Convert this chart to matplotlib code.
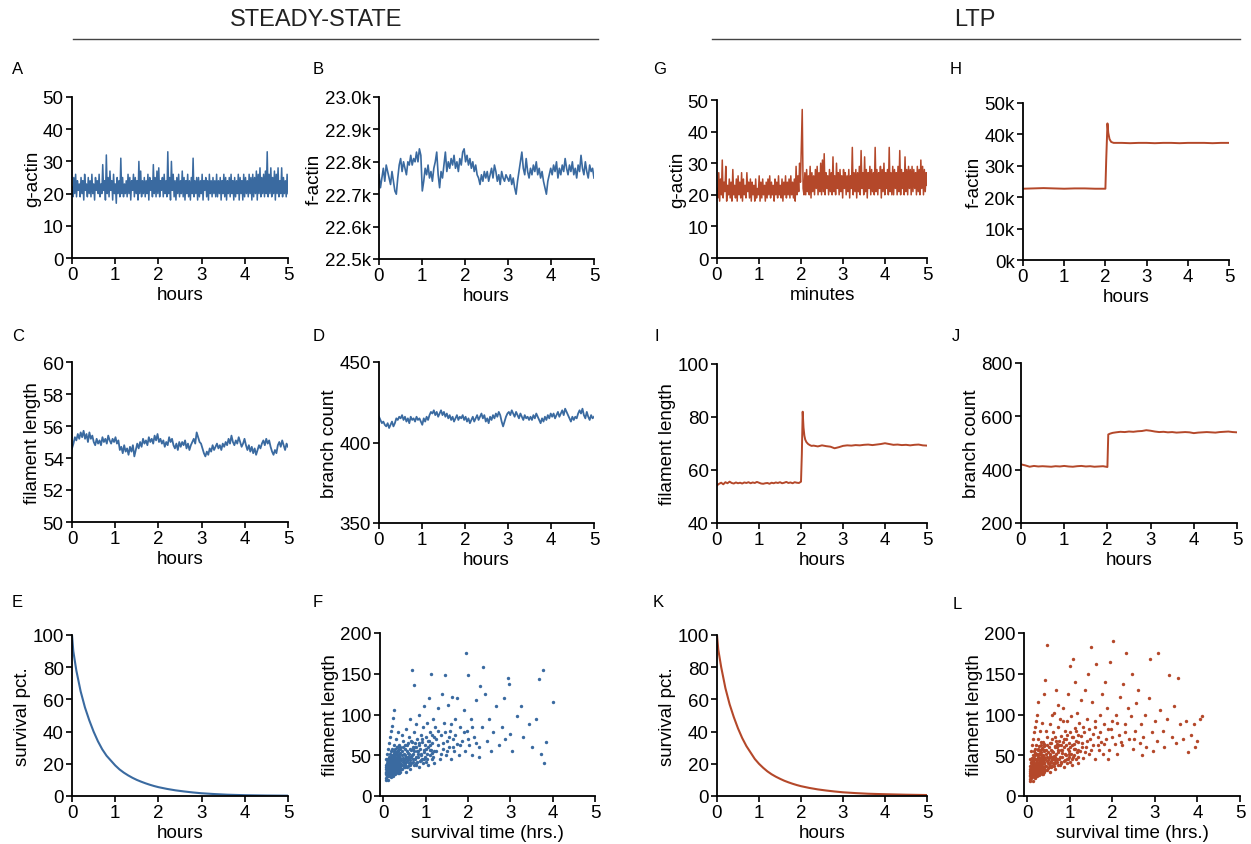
import numpy as np
import matplotlib.pyplot as plt
from matplotlib.lines import Line2D
from matplotlib.ticker import FuncFormatter

plt.rcParams['font.family'] = ['Liberation Sans', 'DejaVu Sans']

BLUE = '#3a6aa0'
RED = '#b4482a'

# ---- steady-state traces (sampled evenly over 0-5 h) ----
A_gactin = [
    22, 19, 25, 20, 26, 19, 24, 21, 23, 19, 25, 20, 24, 18, 26, 21, 23, 19, 25, 20,
    24, 19, 26, 20, 23, 18, 25, 21, 24, 20, 26, 19, 23, 20, 29, 21, 24, 18, 32, 20,
    25, 19, 27, 21, 24, 18, 26, 20, 23, 17, 25, 20, 24, 19, 31, 20, 25, 19, 23, 20,
    24, 19, 26, 20, 25, 18, 24, 21, 26, 19, 25, 20, 24, 18, 30, 20, 27, 19, 24, 20,
    25, 19, 24, 20, 26, 18, 25, 21, 24, 19, 29, 20, 25, 19, 27, 20, 28, 19, 24, 21,
    25, 19, 26, 20, 24, 19, 33, 20, 25, 18, 30, 21, 26, 19, 24, 18, 25, 20, 26, 19,
    24, 20, 27, 19, 25, 18, 24, 20, 26, 19, 24, 18, 25, 20, 31, 19, 24, 20, 25, 18,
    25, 19, 24, 20, 26, 18, 24, 21, 25, 19, 24, 18, 26, 20, 24, 19, 25, 20, 24, 19,
    26, 19, 24, 20, 25, 18, 24, 20, 26, 19, 25, 18, 24, 20, 25, 19, 26, 20, 24, 18,
    25, 19, 24, 20, 26, 18, 25, 20, 24, 18, 26, 19, 25, 20, 24, 19, 26, 20, 25, 18,
    26, 19, 25, 20, 27, 18, 26, 20, 28, 19, 25, 20, 26, 19, 27, 20, 33, 19, 26, 20,
    28, 19, 25, 20, 27, 18, 26, 20, 28, 19, 24, 20, 28, 19, 25, 20, 24, 19, 26, 20,
]

B_factin_k = [
    22.76, 22.72, 22.75, 22.78, 22.74, 22.79, 22.77, 22.75, 22.73, 22.77, 22.74, 22.71, 22.70, 22.75, 22.79,
    22.81, 22.77, 22.80, 22.78, 22.76, 22.80, 22.79, 22.82, 22.79, 22.81, 22.80, 22.83, 22.80, 22.84, 22.82,
    22.71, 22.74, 22.78, 22.76, 22.79, 22.75, 22.77, 22.74, 22.78, 22.80, 22.83, 22.76, 22.72, 22.77, 22.75,
    22.79, 22.83, 22.77, 22.80, 22.78, 22.81, 22.79, 22.82, 22.78, 22.80, 22.77, 22.81, 22.79, 22.83, 22.84,
    22.80, 22.82, 22.79, 22.81, 22.78, 22.80, 22.77, 22.79, 22.76, 22.75, 22.73, 22.76, 22.74, 22.77, 22.75,
    22.77, 22.74, 22.76, 22.78, 22.75, 22.79, 22.77, 22.74, 22.76, 22.73, 22.77, 22.75, 22.74, 22.76, 22.75,
    22.74, 22.76, 22.73, 22.75, 22.72, 22.70, 22.74, 22.77, 22.80, 22.83, 22.78, 22.76, 22.81, 22.77, 22.75,
    22.78, 22.76, 22.79, 22.77, 22.80, 22.76, 22.78, 22.75, 22.77, 22.74, 22.72, 22.70, 22.74, 22.76, 22.78,
    22.76, 22.79, 22.77, 22.80, 22.75, 22.78, 22.76, 22.79, 22.77, 22.81, 22.78, 22.76, 22.79, 22.77, 22.80,
    22.76, 22.78, 22.75, 22.79, 22.77, 22.82, 22.78, 22.76, 22.80, 22.77, 22.75, 22.79, 22.77, 22.78, 22.75,
]

C_length = [
    54.6, 54.9, 55.3, 55.1, 55.5, 55.2, 55.6, 55.3, 55.7, 55.2, 55.5, 55.0, 55.6, 55.2, 55.4,
    55.0, 54.8, 55.2, 54.9, 55.1, 54.8, 55.3, 55.0, 55.2, 54.9, 55.4, 55.1, 54.9, 55.2, 55.0,
    55.3, 54.9, 55.1, 54.5, 54.7, 54.3, 54.8, 54.4, 54.6, 54.2, 54.7, 54.4, 54.8, 54.1, 54.5,
    54.9, 54.6, 55.0, 54.7, 55.2, 54.9, 55.1, 54.8, 55.3, 55.0, 55.2, 54.9, 55.4, 55.1, 55.5,
    55.0, 55.2, 54.9, 55.1, 54.7, 55.0, 54.8, 55.3, 55.0, 55.2, 54.8, 54.6, 54.9, 54.5, 55.0,
    54.7, 55.0, 54.8, 55.1, 54.6, 54.9, 54.5, 54.8, 55.0, 55.2, 54.9, 55.6, 55.3, 55.0, 54.9,
    54.6, 54.3, 54.1, 54.4, 54.2, 54.6, 54.4, 54.8, 54.5, 54.7, 54.9, 54.6, 54.8, 54.5, 54.9,
    54.7, 55.0, 54.8, 55.2, 54.9, 55.4, 55.0, 54.8, 55.1, 54.9, 55.3, 55.0, 54.7, 54.9, 55.2,
    54.8, 54.5, 54.8, 54.4, 54.7, 54.3, 54.6, 54.2, 54.5, 54.8, 54.6, 54.9, 55.1, 54.8, 55.2,
    54.9, 55.1, 54.7, 54.4, 54.2, 54.5, 54.3, 54.8, 55.0, 54.7, 55.1, 54.8, 54.5, 54.9, 54.7,
]

D_branches = [
    416, 414, 412, 413, 411, 410, 412, 409, 411, 413, 410, 412, 415, 414, 416,
    415, 417, 414, 416, 413, 415, 412, 416, 414, 415, 413, 416, 414, 415, 413,
    411, 415, 413, 416, 414, 417, 419, 418, 420, 417, 419, 416, 418, 420, 417,
    419, 416, 418, 415, 417, 414, 416, 413, 415, 417, 414, 416, 415, 417, 414,
    416, 413, 415, 412, 414, 416, 413, 415, 417, 414, 416, 418, 415, 417, 413,
    415, 412, 416, 414, 417, 415, 418, 416, 419, 417, 413, 410, 413, 416, 418,
    419, 417, 420, 418, 416, 419, 417, 415, 418, 416, 414, 417, 415, 416, 414,
    416, 414, 417, 415, 418, 416, 414, 412, 415, 413, 416, 414, 417, 415, 418,
    416, 418, 415, 417, 419, 416, 418, 420, 417, 421, 419, 417, 415, 413, 416,
    414, 416, 415, 418, 420, 418, 421, 417, 415, 419, 416, 414, 417, 415, 416,
]

# ---- LTP traces ----
G_gactin = [
    22, 19, 27, 18, 25, 20, 31, 19, 24, 21, 29, 18, 23, 20, 25, 19, 24, 18, 28, 20,
    23, 19, 25, 18, 26, 20, 24, 19, 27, 18, 25, 20, 23, 19, 27, 21, 24, 19, 25, 18,
    24, 20, 23, 18, 25, 19, 22, 20, 26, 18, 24, 19, 25, 20, 23, 18, 24, 19, 25, 20,
    26, 19, 24, 20, 23, 18, 25, 20, 24, 19, 26, 20, 23, 19, 25, 18, 24, 20, 26, 19,
    24, 20, 25, 19, 26, 20, 24, 19, 25, 18, 29, 20, 26, 21, 30, 24, 36, 47, 22, 20,
    27, 20, 28, 21, 26, 20, 29, 19, 27, 21, 26, 20, 28, 22, 29, 20, 27, 21, 30, 20,
    31, 21, 33, 20, 27, 22, 26, 20, 28, 21, 27, 20, 32, 21, 26, 20, 30, 22, 27, 20,
    28, 21, 26, 19, 28, 22, 27, 20, 26, 21, 28, 19, 26, 22, 35, 20, 27, 21, 28, 19,
    27, 21, 29, 20, 34, 22, 27, 20, 32, 21, 28, 19, 27, 22, 29, 20, 28, 21, 27, 20,
    35, 21, 28, 20, 27, 22, 29, 19, 28, 21, 30, 20, 27, 22, 28, 20, 35, 21, 27, 20,
    29, 20, 28, 22, 27, 20, 29, 21, 34, 20, 28, 22, 27, 20, 32, 21, 28, 20, 29, 22,
    28, 20, 29, 21, 28, 22, 27, 20, 29, 21, 28, 20, 31, 22, 29, 20, 28, 21, 27, 23,
]

H_hours = [0, 0.25, 0.5, 0.75, 1.0, 1.25, 1.5, 1.75, 2.0,
           2.02, 2.05, 2.07, 2.10, 2.14, 2.2,
           2.4, 2.6, 2.8, 3.0, 3.2, 3.4, 3.6, 3.8, 4.0, 4.2, 4.4, 4.6, 4.8, 5.0]
H_factin_k = [22.7, 22.8, 22.9, 22.8, 22.7, 22.8, 22.8, 22.7, 22.7,
              32.0, 43.5, 40.5, 38.5, 37.6, 37.3,
              37.3, 37.2, 37.3, 37.3, 37.2, 37.3, 37.3, 37.2, 37.3, 37.3, 37.3, 37.2, 37.3, 37.3]

I_hours = [0.00, 0.05, 0.10, 0.15, 0.20, 0.25, 0.30, 0.35, 0.40, 0.45,
           0.50, 0.55, 0.60, 0.65, 0.70, 0.75, 0.80, 0.85, 0.90, 0.95,
           1.00, 1.05, 1.10, 1.15, 1.20, 1.25, 1.30, 1.35, 1.40, 1.45,
           1.50, 1.55, 1.60, 1.65, 1.70, 1.75, 1.80, 1.85, 1.90, 1.95, 2.00,
           2.02, 2.04, 2.06, 2.08, 2.10, 2.13, 2.17, 2.21, 2.25,
           2.3, 2.4, 2.5, 2.6, 2.7, 2.8, 2.9, 3.0, 3.1, 3.2, 3.3, 3.4, 3.5, 3.6,
           3.7, 3.8, 3.9, 4.0, 4.1, 4.2, 4.3, 4.4, 4.5, 4.6, 4.7, 4.8, 4.9, 5.0]
I_length = [54.2, 54.8, 55.2, 54.6, 55.4, 55.0, 55.6, 55.1, 54.9, 55.3,
            55.0, 55.2, 54.9, 55.3, 55.1, 55.4, 55.0, 55.3, 55.1, 55.5,
            55.2, 54.9, 54.8, 55.0, 55.1, 54.8, 55.2, 55.0, 55.3, 55.1,
            55.4, 55.0, 55.2, 55.5, 55.1, 55.3, 55.0, 55.4, 55.2, 55.1, 55.6,
            66.0, 82.0, 76.0, 73.0, 71.5, 70.5, 69.8, 69.4, 69.1,
            69.2, 68.9, 69.3, 69.0, 68.8, 68.2, 68.6, 69.1, 69.3, 69.2, 69.4, 69.3, 69.5, 69.6,
            69.4, 69.6, 69.8, 70.1, 69.8, 69.5, 69.6, 69.4, 69.5, 69.3, 69.5, 69.6, 69.3, 69.2]

J_hours = [0.0, 0.1, 0.2, 0.3, 0.4, 0.5, 0.6, 0.7, 0.8, 0.9, 1.0,
           1.1, 1.2, 1.3, 1.4, 1.5, 1.6, 1.7, 1.8, 1.9, 2.0,
           2.02, 2.06, 2.12,
           2.2, 2.3, 2.4, 2.5, 2.6, 2.7, 2.8, 2.9, 3.0, 3.1, 3.2, 3.3, 3.4, 3.5,
           3.6, 3.7, 3.8, 3.9, 4.0, 4.1, 4.2, 4.3, 4.4, 4.5, 4.6, 4.7, 4.8, 4.9, 5.0]
J_branches = [420, 416, 411, 414, 412, 413, 412, 411, 413, 412, 414,
              412, 411, 413, 414, 412, 413, 411, 412, 413, 410,
              532, 535, 538,
              540, 542, 541, 543, 542, 544, 545, 548, 546, 543, 541, 542, 540, 541,
              539, 540, 541, 540, 537, 539, 540, 541, 540, 539, 541, 542, 543, 541, 540]

# ---- survival curves ----
surv_hours = [0, 0.03, 0.1, 0.2, 0.3, 0.4, 0.5, 0.6, 0.7, 0.8, 0.9, 1.0, 1.1, 1.2, 1.3, 1.4,
              1.5, 1.6, 1.7, 1.8, 1.9, 2.0, 2.2, 2.4, 2.6, 2.8, 3.0, 3.3, 3.6, 4.0, 4.5, 5.0]
E_pct = [100, 90, 78, 65, 55, 47, 40, 34, 29, 25, 22, 19, 16.5, 14.5, 12.8, 11.3,
         10, 8.9, 7.9, 7, 6.2, 5.5, 4.4, 3.5, 2.8, 2.2, 1.7, 1.2, 0.8, 0.5, 0.3, 0.2]
K_pct = [100, 91, 80, 67, 57, 49, 42, 36, 31, 27, 23, 20, 17.5, 15.3, 13.5, 12,
         10.7, 9.5, 8.5, 7.6, 6.8, 6.1, 5, 4.1, 3.4, 2.8, 2.3, 1.8, 1.4, 1.1, 0.8, 0.6]

# ---- survival time vs filament length (hrs, length) ----
F_pairs = [
    (0.05, 28), (0.06, 35), (0.07, 22), (0.08, 30), (0.08, 41), (0.09, 25), (0.10, 33), (0.10, 46),
    (0.11, 27), (0.12, 38), (0.12, 20), (0.13, 31), (0.14, 43), (0.14, 26), (0.15, 35), (0.15, 52),
    (0.16, 29), (0.17, 39), (0.17, 23), (0.18, 33), (0.19, 45), (0.19, 28), (0.20, 37), (0.20, 58),
    (0.21, 31), (0.22, 42), (0.22, 25), (0.23, 35), (0.24, 48), (0.24, 29), (0.25, 39), (0.25, 63),
    (0.26, 33), (0.27, 44), (0.27, 27), (0.28, 37), (0.29, 51), (0.29, 31), (0.30, 41), (0.30, 70),
    (0.31, 35), (0.32, 46), (0.32, 29), (0.33, 39), (0.34, 55), (0.34, 33), (0.35, 43), (0.35, 78),
    (0.36, 37), (0.37, 49), (0.37, 31), (0.38, 41), (0.39, 60), (0.39, 35), (0.40, 45), (0.06, 45),
    (0.09, 52), (0.11, 58), (0.13, 65), (0.16, 72), (0.18, 80), (0.21, 86), (0.23, 96), (0.26, 105),
    (0.05, 20), (0.07, 38), (0.10, 24), (0.12, 44), (0.15, 30), (0.18, 48), (0.20, 28), (0.23, 40),
    (0.26, 53), (0.28, 30), (0.31, 48), (0.33, 60), (0.36, 28), (0.38, 52), (0.40, 34), (0.08, 32),
    (0.11, 36), (0.14, 38), (0.17, 34), (0.19, 40), (0.22, 36), (0.25, 34), (0.27, 41), (0.30, 36),
    (0.33, 45), (0.36, 42), (0.39, 47),
    (0.06, 30), (0.07, 27), (0.07, 33), (0.08, 24), (0.08, 37), (0.09, 29), (0.09, 44), (0.10, 27),
    (0.10, 39), (0.11, 31), (0.11, 42), (0.12, 29), (0.12, 34), (0.13, 25), (0.13, 40), (0.14, 33),
    (0.14, 48), (0.15, 27), (0.15, 41), (0.16, 35), (0.16, 45), (0.17, 30), (0.17, 50), (0.18, 27),
    (0.18, 38), (0.19, 34), (0.19, 55), (0.20, 31), (0.20, 43), (0.21, 26), (0.21, 39), (0.22, 33),
    (0.22, 50), (0.23, 29), (0.23, 45), (0.24, 37), (0.24, 55), (0.25, 28), (0.25, 44), (0.26, 38),
    (0.26, 47), (0.27, 32), (0.27, 58), (0.28, 42), (0.28, 50), (0.29, 35), (0.29, 45), (0.30, 30),
    (0.30, 54), (0.31, 39), (0.31, 60), (0.32, 33), (0.32, 52), (0.33, 43), (0.33, 35), (0.34, 48),
    (0.34, 28), (0.35, 38), (0.35, 56), (0.36, 46), (0.36, 33), (0.37, 40), (0.37, 62), (0.38, 36),
    (0.38, 47), (0.39, 30), (0.39, 53), (0.40, 40), (0.40, 58), (0.42, 44), (0.42, 33), (0.44, 50),
    (0.44, 38), (0.46, 42), (0.46, 60), (0.48, 35), (0.48, 52), (0.50, 46), (0.50, 40), (0.52, 38),
    (0.52, 62), (0.54, 48), (0.54, 42), (0.56, 55), (0.56, 36), (0.58, 45), (0.58, 65), (0.60, 40),
    (0.60, 52), (0.62, 48), (0.62, 38), (0.64, 58), (0.64, 44), (0.66, 40), (0.66, 68), (0.68, 50),
    (0.70, 45), (0.70, 60), (0.72, 38), (0.72, 55), (0.74, 65), (0.76, 48), (0.78, 60), (0.80, 42),
    (0.82, 55), (0.85, 65), (0.88, 52), (0.92, 70), (0.95, 45), (1.00, 58), (1.05, 68), (1.10, 62),
    (1.15, 75), (1.20, 55), (1.25, 70), (1.30, 80), (1.35, 52), (1.40, 65), (1.45, 78), (1.50, 55),
    (1.55, 72), (1.60, 88), (1.65, 60), (1.70, 75), (1.80, 62), (1.90, 78), (2.00, 70), (2.10, 85),
    (2.20, 65),
    (0.42, 38), (0.43, 55), (0.45, 33), (0.46, 47), (0.47, 68), (0.48, 40), (0.50, 58), (0.51, 35),
    (0.52, 50), (0.53, 82), (0.55, 43), (0.56, 62), (0.57, 37), (0.58, 53), (0.60, 72), (0.61, 45),
    (0.62, 95), (0.63, 40), (0.65, 57), (0.66, 48), (0.67, 155), (0.68, 66), (0.70, 42), (0.71, 52),
    (0.72, 78), (0.73, 136), (0.74, 46), (0.75, 60), (0.77, 88), (0.78, 40), (0.79, 55), (0.80, 70),
    (0.82, 48), (0.83, 63), (0.84, 100), (0.86, 43), (0.87, 58), (0.88, 75), (0.90, 50), (0.91, 66),
    (0.92, 45), (0.94, 85), (0.95, 56), (0.96, 110), (0.98, 48), (0.99, 62), (1.00, 73), (1.02, 52),
    (1.03, 90), (1.04, 45), (1.06, 60), (1.07, 120), (1.08, 68), (1.10, 50), (1.11, 78), (1.12, 150),
    (1.13, 56), (1.15, 65), (1.17, 95), (1.18, 48), (1.19, 72), (0.44, 75), (0.49, 44), (0.54, 30),
    (0.59, 48), (0.64, 33), (0.69, 58), (0.76, 38), (0.81, 52), (0.85, 36), (0.89, 44), (0.93, 40),
    (0.97, 54), (1.01, 42), (1.05, 38), (1.09, 57), (1.14, 45), (1.16, 53), (1.20, 40),
    (1.22, 85), (1.25, 55), (1.28, 108), (1.30, 62), (1.33, 46), (1.35, 75), (1.38, 125), (1.40, 58),
    (1.43, 90), (1.45, 148), (1.47, 50), (1.50, 68), (1.53, 112), (1.55, 60), (1.58, 80), (1.60, 45),
    (1.63, 122), (1.65, 70), (1.68, 55), (1.70, 95), (1.73, 64), (1.75, 120), (1.78, 50), (1.80, 85),
    (1.85, 68), (1.90, 105), (1.93, 55), (1.96, 175), (1.98, 80), (2.00, 148), (2.03, 62), (2.07, 95),
    (2.10, 50), (2.15, 72), (2.20, 118), (2.25, 60), (2.28, 135), (2.32, 85), (2.35, 158), (2.40, 125),
    (2.45, 68), (2.50, 95), (2.55, 55), (2.60, 78), (2.65, 110), (2.72, 62), (2.80, 85), (2.88, 70),
    (2.95, 145), (2.97, 138), (3.00, 76), (3.05, 55), (3.15, 98), (3.30, 72), (3.45, 88), (3.60, 95),
    (3.68, 143), (3.72, 52), (3.78, 155), (3.80, 40), (3.85, 66), (4.00, 115), (3.50, 60), (3.25, 110),
    (2.85, 120), (2.25, 48),
]

L_pairs = [
    (0.05, 25), (0.06, 33), (0.07, 21), (0.08, 29), (0.08, 40), (0.09, 24), (0.10, 31), (0.10, 47),
    (0.11, 26), (0.12, 36), (0.12, 19), (0.13, 30), (0.14, 44), (0.14, 25), (0.15, 34), (0.15, 55),
    (0.16, 28), (0.17, 38), (0.17, 22), (0.18, 32), (0.19, 46), (0.19, 27), (0.20, 36), (0.20, 62),
    (0.21, 30), (0.22, 42), (0.22, 24), (0.23, 34), (0.24, 50), (0.24, 28), (0.25, 38), (0.25, 70),
    (0.26, 32), (0.27, 45), (0.27, 26), (0.28, 36), (0.29, 53), (0.29, 30), (0.30, 40), (0.30, 80),
    (0.31, 34), (0.32, 47), (0.32, 28), (0.33, 38), (0.34, 58), (0.34, 32), (0.35, 42), (0.35, 90),
    (0.36, 36), (0.37, 50), (0.37, 30), (0.38, 40), (0.39, 64), (0.39, 34), (0.40, 44), (0.06, 46),
    (0.09, 55), (0.11, 62), (0.13, 70), (0.16, 78), (0.18, 85), (0.21, 92), (0.23, 100), (0.26, 115),
    (0.05, 19), (0.07, 37), (0.10, 23), (0.12, 43), (0.15, 29), (0.18, 50), (0.20, 27), (0.23, 41),
    (0.26, 56), (0.28, 29), (0.31, 50), (0.33, 66), (0.36, 27), (0.38, 55), (0.40, 33), (0.08, 31),
    (0.11, 35), (0.14, 37), (0.17, 33), (0.19, 39), (0.22, 35), (0.25, 33), (0.27, 40), (0.30, 35),
    (0.33, 44), (0.36, 41), (0.39, 46), (0.45, 185), (0.42, 142), (0.38, 125),
    (0.06, 28), (0.07, 31), (0.07, 26), (0.08, 22), (0.08, 35), (0.09, 28), (0.09, 42), (0.10, 26),
    (0.10, 37), (0.11, 30), (0.11, 45), (0.12, 28), (0.12, 33), (0.13, 24), (0.13, 39), (0.14, 32),
    (0.14, 50), (0.15, 26), (0.15, 40), (0.16, 34), (0.16, 47), (0.17, 29), (0.17, 53), (0.18, 26),
    (0.18, 37), (0.19, 33), (0.19, 58), (0.20, 30), (0.20, 44), (0.21, 25), (0.21, 40), (0.22, 32),
    (0.22, 52), (0.23, 28), (0.23, 46), (0.24, 36), (0.24, 58), (0.25, 27), (0.25, 45), (0.26, 38),
    (0.26, 48), (0.27, 31), (0.27, 61), (0.28, 42), (0.28, 52), (0.29, 34), (0.29, 47), (0.30, 29),
    (0.30, 56), (0.31, 38), (0.31, 63), (0.32, 32), (0.32, 54), (0.33, 43), (0.33, 34), (0.34, 49),
    (0.34, 27), (0.35, 37), (0.35, 59), (0.36, 47), (0.36, 32), (0.37, 41), (0.37, 66), (0.38, 35),
    (0.38, 48), (0.39, 29), (0.39, 56), (0.40, 40), (0.40, 61), (0.42, 45), (0.42, 32), (0.44, 52),
    (0.44, 37), (0.46, 43), (0.46, 63), (0.48, 34), (0.48, 54), (0.50, 47), (0.50, 39), (0.52, 37),
    (0.52, 65), (0.54, 49), (0.54, 41), (0.56, 57), (0.56, 35), (0.58, 46), (0.58, 70), (0.60, 40),
    (0.60, 54), (0.62, 49), (0.62, 37), (0.64, 61), (0.64, 44), (0.66, 40), (0.66, 72), (0.68, 51),
    (0.70, 45), (0.70, 64), (0.72, 38), (0.72, 57), (0.74, 68), (0.76, 48), (0.78, 62), (0.80, 42),
    (0.82, 57), (0.85, 70), (0.88, 52), (0.92, 75), (0.95, 45), (1.00, 60), (1.05, 72), (1.10, 64),
    (1.15, 80), (1.20, 56), (1.25, 74), (1.30, 85), (1.35, 54), (1.40, 68), (1.45, 82), (1.50, 57),
    (1.55, 76), (1.60, 92), (1.65, 62), (1.70, 78), (1.80, 64), (1.90, 82), (2.00, 72), (2.10, 90),
    (2.20, 66), (2.30, 78), (2.50, 70), (0.90, 62), (0.98, 52), (1.08, 48), (1.18, 66), (1.28, 60),
    (0.42, 37), (0.43, 57), (0.45, 32), (0.46, 48), (0.47, 72), (0.48, 40), (0.50, 60), (0.51, 35),
    (0.52, 52), (0.53, 88), (0.55, 43), (0.56, 65), (0.57, 37), (0.58, 55), (0.60, 78), (0.61, 45),
    (0.62, 102), (0.63, 40), (0.65, 60), (0.66, 48), (0.67, 130), (0.68, 68), (0.70, 42), (0.71, 54),
    (0.72, 85), (0.73, 112), (0.74, 46), (0.75, 63), (0.77, 95), (0.78, 40), (0.79, 57), (0.80, 74),
    (0.82, 48), (0.83, 66), (0.84, 108), (0.86, 43), (0.87, 60), (0.88, 80), (0.90, 50), (0.91, 70),
    (0.92, 45), (0.94, 92), (0.95, 58), (0.96, 125), (0.98, 48), (0.99, 65), (1.00, 78), (1.02, 52),
    (1.03, 98), (1.04, 45), (1.06, 62), (1.07, 168), (1.08, 72), (1.10, 50), (1.11, 84), (1.12, 140),
    (1.13, 58), (1.15, 68), (1.17, 102), (1.18, 48), (1.19, 75), (1.22, 90), (1.24, 55), (1.26, 118),
    (1.28, 65), (1.30, 47), (0.44, 80), (0.49, 44), (0.54, 30), (0.59, 48), (0.64, 33), (0.69, 60),
    (0.76, 38), (0.81, 53), (0.85, 36), (0.89, 44), (0.93, 40), (0.97, 55), (1.01, 42), (1.05, 38),
    (1.09, 58), (1.14, 45), (1.16, 54), (1.20, 41), (0.57, 100), (0.83, 92), (1.00, 160),
    (1.33, 78), (1.35, 130), (1.38, 60), (1.40, 95), (1.43, 150), (1.45, 52), (1.48, 70), (1.50, 183),
    (1.52, 115), (1.55, 62), (1.58, 85), (1.60, 45), (1.62, 162), (1.65, 72), (1.68, 56), (1.70, 100),
    (1.73, 66), (1.75, 125), (1.78, 52), (1.80, 88), (1.83, 140), (1.85, 70), (1.88, 108), (1.91, 57),
    (1.94, 165), (1.97, 82), (2.00, 92), (2.02, 190), (2.05, 64), (2.08, 100), (2.11, 52), (2.15, 75),
    (2.18, 122), (2.22, 62), (2.26, 138), (2.30, 88), (2.33, 175), (2.37, 108), (2.40, 70), (2.44, 98),
    (2.48, 58), (2.52, 80), (2.56, 114), (2.60, 130), (2.64, 65), (2.68, 88), (2.72, 72), (2.76, 100),
    (2.80, 60), (2.85, 120), (2.88, 168), (2.92, 78), (2.96, 55), (3.00, 92), (3.04, 68), (3.08, 175),
    (3.12, 105), (3.18, 80), (3.22, 60), (3.28, 95), (3.34, 148), (3.40, 72), (3.45, 110), (3.50, 65),
    (3.55, 145), (3.60, 88), (3.66, 70), (3.72, 92), (3.78, 54), (3.85, 75), (3.92, 88), (3.98, 68),
    (4.05, 95), (4.10, 98), (3.95, 60), (2.45, 150), (1.90, 45), (2.70, 50),
]

W, H = 1251, 845
fig = plt.figure(figsize=(W / 100, H / 100), dpi=100)


def panel(x0, y0, x1, y1):
    # pixel box -> figure fraction
    return fig.add_axes([x0 / W, 1 - y1 / H, (x1 - x0) / W, (y1 - y0) / H])


def style(ax, ylim, yticks, xlabel, ylabel, xlim=(0, 5), fmt=None):
    ax.set_xlim(*xlim)
    ax.set_ylim(*ylim)
    ax.set_xticks([0, 1, 2, 3, 4, 5])
    ax.set_yticks(yticks)
    if fmt:
        ax.yaxis.set_major_formatter(FuncFormatter(fmt))
    for s in ['top', 'right']:
        ax.spines[s].set_visible(False)
    for s in ['left', 'bottom']:
        ax.spines[s].set_linewidth(1.3)
    ax.tick_params(direction='out', length=4, width=1.2, labelsize=13.5, pad=2)
    ax.set_xlabel(xlabel, fontsize=13.5, labelpad=2)
    ax.set_ylabel(ylabel, fontsize=13.5, labelpad=1)
    ax.patch.set_alpha(0)


def even_hours(vals):
    return np.linspace(0, 5, len(vals))


kfmt1 = lambda v, p: f"{v:.1f}k"
kfmt0 = lambda v, p: f"{v:.0f}k"

# A
ax = panel(72, 98, 288, 259)
ax.plot(even_hours(A_gactin), A_gactin, color=BLUE, lw=1.1)
style(ax, (0, 50), range(0, 51, 10), 'hours', 'g-actin')
# B
ax = panel(379, 98, 594, 260)
ax.plot(even_hours(B_factin_k), B_factin_k, color=BLUE, lw=1.2)
style(ax, (22.5, 23.0), [22.5, 22.6, 22.7, 22.8, 22.9, 23.0], 'hours', 'f-actin', fmt=kfmt1)
# C
ax = panel(72, 363, 288, 523)
ax.plot(even_hours(C_length), C_length, color=BLUE, lw=1.3)
style(ax, (50, 60), range(50, 61, 2), 'hours', 'filament length')
# D
ax = panel(379, 363, 594, 524)
ax.plot(even_hours(D_branches), D_branches, color=BLUE, lw=1.3)
style(ax, (350, 450), [350, 400, 450], 'hours', 'branch count')
# E
ax = panel(72, 636, 288, 797)
ax.plot(surv_hours, E_pct, color=BLUE, lw=1.5)
style(ax, (0, 100), range(0, 101, 20), 'hours', 'survival pct.')
# F
ax = panel(380, 634, 595, 797)
fx, fy = zip(*F_pairs)
ax.scatter(fx, fy, s=6, color=BLUE, linewidths=0)
style(ax, (0, 200), [0, 50, 100, 150, 200], 'survival time (hrs.)', 'filament length', xlim=(-0.08, 5))

# G
ax = panel(717, 101, 927, 259)
ax.plot(even_hours(G_gactin), G_gactin, color=RED, lw=1.1)
style(ax, (0, 50), range(0, 51, 10), 'minutes', 'g-actin')
# H
ax = panel(1023, 104, 1229, 261)
ax.plot(H_hours, H_factin_k, color=RED, lw=1.4)
style(ax, (0, 50), range(0, 51, 10), 'hours', 'f-actin', fmt=kfmt0)
# I
ax = panel(717, 365, 927, 524)
ax.plot(I_hours, I_length, color=RED, lw=1.4)
style(ax, (40, 100), [40, 60, 80, 100], 'hours', 'filament length')
# J
ax = panel(1021, 364, 1237, 524)
ax.plot(J_hours, J_branches, color=RED, lw=1.4)
style(ax, (200, 800), [200, 400, 600, 800], 'hours', 'branch count')
# K
ax = panel(717, 636, 927, 797)
ax.plot(surv_hours, K_pct, color=RED, lw=1.5)
style(ax, (0, 100), range(0, 101, 20), 'hours', 'survival pct.')
# L
ax = panel(1024, 634, 1240, 797)
lx, ly = zip(*L_pairs)
ax.scatter(lx, ly, s=6, color=RED, linewidths=0)
style(ax, (0, 200), [0, 50, 100, 150, 200], 'survival time (hrs.)', 'filament length', xlim=(-0.08, 5))

# panel letters
letters = {'A': (12, 70), 'B': (313, 70), 'G': (653, 70), 'H': (950, 70),
           'C': (12, 337), 'D': (313, 337), 'I': (654, 337), 'J': (952, 337),
           'E': (12, 603), 'F': (313, 603), 'K': (653, 603), 'L': (953, 605)}
for t, (x, y) in letters.items():
    fig.text(x / W, 1 - y / H, t, fontsize=12, va='center', ha='left')

# section headers
fig.text(316 / W, 1 - 20 / H, 'STEADY-STATE', fontsize=17, ha='center', va='center', color='#222222')
fig.text(975 / W, 1 - 20 / H, 'LTP', fontsize=17, ha='center', va='center', color='#222222')
fig.add_artist(Line2D([73 / W, 598 / W], [1 - 40 / H] * 2, color='#444444', lw=1))
fig.add_artist(Line2D([712 / W, 1240 / W], [1 - 40 / H] * 2, color='#444444', lw=1))

fig.savefig('out.png', dpi=100)
